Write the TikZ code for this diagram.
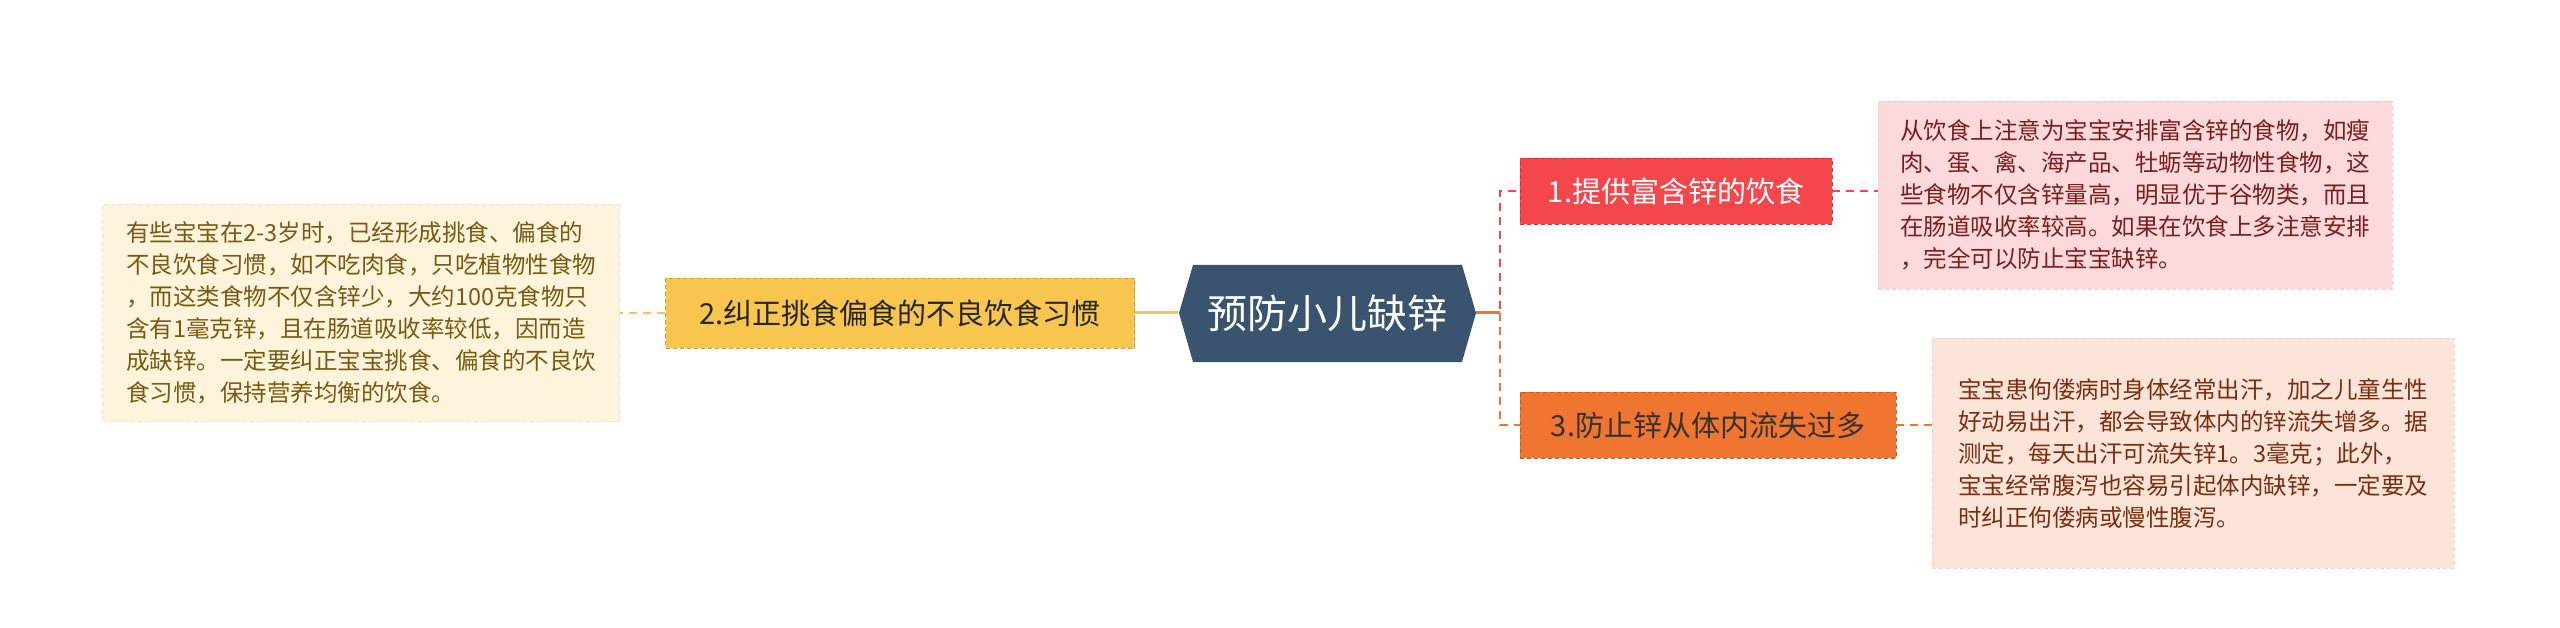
\documentclass[tikz,border=0pt]{standalone}
\usepackage{fontspec}
\setmainfont{Noto Sans CJK SC}
\usetikzlibrary{shapes.geometric,shapes.misc}
\definecolor{cblue}{HTML}{3A5470}
\definecolor{cred}{HTML}{F5474B}
\definecolor{cyel}{HTML}{F8C54F}
\definecolor{corg}{HTML}{F07530}
\definecolor{bred}{HTML}{FCDADB}
\definecolor{borg}{HTML}{FDE4D8}
\definecolor{byel}{HTML}{FEF4DC}
\definecolor{tred}{HTML}{7A1E1E}
\definecolor{torg}{HTML}{7A2E10}
\definecolor{tyel}{HTML}{7A5A10}
\begin{document}
\begin{tikzpicture}[x=1pt,y=-1pt,
  topic/.style={draw=#1!80!black,dash pattern=on 4pt off 3pt,fill=#1,minimum height=66pt,inner xsep=14pt,font=\fontsize{29}{34}\selectfont},
  note/.style={draw=#1!85!gray,dash pattern=on 4pt off 3pt,fill=#1,align=left,inner xsep=14pt,inner ysep=14pt,font=\fontsize{23.5}{32}\selectfont},
  link/.style={dash pattern=on 8pt off 6pt,line width=2pt,#1}]
\useasboundingbox (0,0) rectangle (2560,628);
\fill[cblue] (1179,313) -- (1193,265) -- (1462,265) -- (1476,313) -- (1462,362) -- (1193,362) -- cycle;
\node[text=white,font=\fontsize{40}{44}\selectfont,minimum width=297pt,minimum height=97pt] (c) at (1327,313) {预防小儿缺锌};
\node[topic=cred,text=white,minimum width=312pt] (t1) at (1676,191) {1.提供富含锌的饮食};
\node[topic=cyel,text=black!85,minimum width=469pt,minimum height=70pt] (t2) at (900,313) {2.纠正挑食偏食的不良饮食习惯};
\node[topic=corg,text=black!80,minimum width=376pt] (t3) at (1708,425) {3.防止锌从体内流失过多};
\node[note=bred,text=tred,minimum width=514pt,minimum height=188pt] (n1) at (2135,195) {从饮食上注意为宝宝安排富含锌的食物，如瘦\\肉、蛋、禽、海产品、牡蛎等动物性食物，这\\些食物不仅含锌量高，明显优于谷物类，而且\\在肠道吸收率较高。如果在饮食上多注意安排\\，完全可以防止宝宝缺锌。};
\node[note=borg,text=torg,minimum width=522pt,minimum height=230pt] (n3) at (2193,453) {宝宝患佝偻病时身体经常出汗，加之儿童生性\\好动易出汗，都会导致体内的锌流失增多。据\\测定，每天出汗可流失锌1。3毫克；此外，\\宝宝经常腹泻也容易引起体内缺锌，一定要及\\时纠正佝偻病或慢性腹泻。};
\node[note=byel,text=tyel,minimum width=517pt,minimum height=217pt] (n2) at (361,313) {有些宝宝在2-3岁时，已经形成挑食、偏食的\\不良饮食习惯，如不吃肉食，只吃植物性食物\\，而这类食物不仅含锌少，大约100克食物只\\含有1毫克锌，且在肠道吸收率较低，因而造\\成缺锌。一定要纠正宝宝挑食、偏食的不良饮\\食习惯，保持营养均衡的饮食。};
\coordinate (j) at (1500,313);
\draw[link=cred] (c.east) -- (j) |- (t1.west);
\draw[link=corg] (j) |- (t3.west);
\draw[line width=3pt,corg] (c.east) -- (j);
\draw[line width=3pt,cyel] (c.west) -- (t2.east);
\draw[link=cred] (t1.east) -- (n1.west|-t1.east);
\draw[link=corg] (t3.east) -- (n3.west|-t3.east);
\draw[link=cyel] (t2.west) -- (n2.east|-t2.west);
\end{tikzpicture}
\end{document}
